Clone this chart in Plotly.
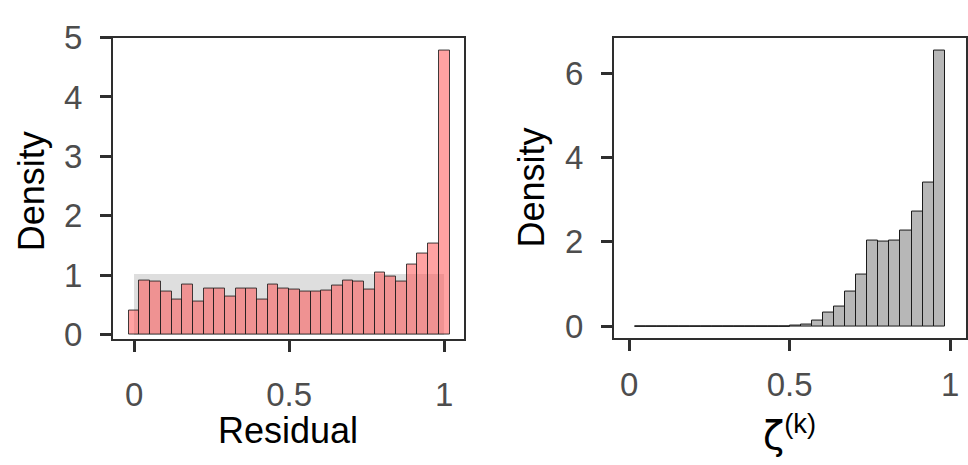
import numpy as np
import plotly.graph_objects as go

# ---------------- data ----------------
# Left panel: histogram of residuals (30 bins, width 1/29, centred on 0 ... 1)
residual_density = [0.40, 0.91, 0.90, 0.73, 0.59, 0.84, 0.56, 0.78, 0.77, 0.64,
                    0.77, 0.78, 0.59, 0.84, 0.77, 0.76, 0.73, 0.73, 0.74, 0.83,
                    0.91, 0.90, 0.76, 1.05, 0.98, 0.89, 1.18, 1.37, 1.54, 4.78]
uniform_lo, uniform_hi, uniform_density = 0.0, 1.0, 1.03

# Right panel: histogram of zeta^(k) (28 bins of width 1/29)
zeta_density = [0, 0, 0, 0, 0, 0, 0, 0, 0, 0, 0, 0, 0, 0,
                0.015, 0.04, 0.125, 0.32, 0.46, 0.82, 1.235, 2.02, 2.01, 2.03,
                2.27, 2.72, 3.40, 6.54]

x_ticks = [0, 0.5, 1]
x_ticktext = ["0", "0.5", "1"]
left_yticks = [0, 1, 2, 3, 4, 5]
right_yticks = [0, 2, 4, 6]

# ---------------- geometry ----------------
W, H = 968, 465
bw = 1 / 29
left_centers = np.arange(len(residual_density)) * bw
right_edges = 0.5 + (np.arange(len(zeta_density) + 1) - 14) * bw
right_centers = (right_edges[:-1] + right_edges[1:]) / 2
n_zero = 0
for v in zeta_density:
    if v == 0:
        n_zero += 1
    else:
        break

def px_x(p):
    return p / W

def px_y(p):
    return 1 - p / H

fig = go.Figure()

fig.add_trace(go.Bar(
    x=[(uniform_lo + uniform_hi) / 2], y=[uniform_density], width=[uniform_hi - uniform_lo],
    marker=dict(color="#DEDEDE", line=dict(width=0)),
    xaxis="x", yaxis="y", showlegend=False, hoverinfo="skip"))

fig.add_trace(go.Bar(
    x=left_centers, y=residual_density, width=bw,
    marker=dict(color="rgba(255,70,70,0.5)", line=dict(color="rgba(30,30,30,0.85)", width=1)),
    xaxis="x", yaxis="y", showlegend=False))

fig.add_trace(go.Bar(
    x=right_centers, y=zeta_density, width=bw,
    marker=dict(color="#B7B7B7", line=dict(color="#1A1A1A", width=1)),
    xaxis="x2", yaxis="y2", showlegend=False))

fig.add_trace(go.Scatter(
    x=[right_edges[0], right_edges[n_zero]], y=[0, 0], mode="lines",
    line=dict(color="#1A1A1A", width=1),
    xaxis="x2", yaxis="y2", showlegend=False, hoverinfo="skip"))

tickfont = dict(family="Liberation Sans, Arial, sans-serif", size=33, color="#4D4D4D")
common_ax = dict(showgrid=False, zeroline=False, showline=True, mirror=True,
                 linecolor="#2E2E2E", linewidth=2, ticks="outside", ticklen=11,
                 tickwidth=3, tickcolor="#2E2E2E", tickfont=tickfont)

fig.update_layout(
    width=W, height=H, margin=dict(l=0, r=0, t=0, b=0),
    paper_bgcolor="white", plot_bgcolor="white", barmode="overlay", bargap=0,
    xaxis=dict(domain=[px_x(113), px_x(464)], range=[-0.068, 1.064], anchor="y",
               tickvals=x_ticks, ticktext=x_ticktext, ticklabelstandoff=14, **common_ax),
    yaxis=dict(domain=[px_y(345), px_y(21)], range=[-0.078, 5.0], anchor="x",
               tickvals=left_yticks, ticklabelstandoff=11, **common_ax),
    xaxis2=dict(domain=[px_x(614), px_x(966)], range=[-0.047, 1.049], anchor="y2",
                tickvals=x_ticks, ticktext=x_ticktext, ticklabelstandoff=5, **common_ax),
    yaxis2=dict(domain=[px_y(344), px_y(21)], range=[-0.287, 6.84], anchor="x2",
                tickvals=right_yticks, ticklabelstandoff=11, **common_ax),
)

titlefont = dict(family="Liberation Sans, Arial, sans-serif", size=36, color="black")
fig.add_annotation(text="Density", x=px_x(31), y=px_y(186), xref="paper", yref="paper",
                   textangle=-90, showarrow=False, font=titlefont, xanchor="center", yanchor="middle")
fig.add_annotation(text="Density", x=px_x(531), y=px_y(182), xref="paper", yref="paper",
                   textangle=-90, showarrow=False, font=titlefont, xanchor="center", yanchor="middle")
fig.add_annotation(text="Residual", x=px_x(288), y=px_y(443), xref="paper", yref="paper",
                   showarrow=False, font=titlefont, xanchor="center", yanchor="middle")
fig.add_annotation(text="<span style='font-family:DejaVu Sans'>ζ</span><sup>(k)</sup>",
                   x=px_x(789), y=px_y(446), xref="paper", yref="paper",
                   showarrow=False, font=dict(family="Liberation Sans, Arial, sans-serif", size=39, color="black"),
                   xanchor="center", yanchor="middle")

fig.write_html("out.html")
